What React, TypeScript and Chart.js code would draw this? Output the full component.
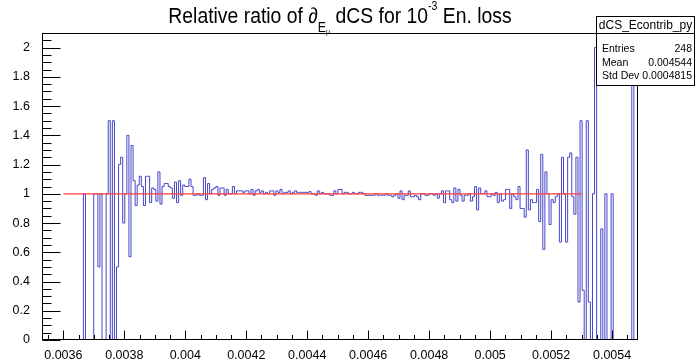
import { useEffect, useRef } from "react";
import { Chart, registerables } from "chart.js";

Chart.register(...registerables);

const WIDTH = 696;
const HEIGHT = 362;

// Histogram binning: equal-width bins spanning [X_MIN, X_MAX]
const X_MIN = 0.00353;
const X_MAX = 0.005485;
const BIN_VALUES: number[] = [
  0, 0, 0, 0, 0, 0, 0, 0, 0, 0,
  0, 0, 0, 0, 0, 0, 0, 0, 0, 0,
  1, 0, 0, 0, 0, 1, 1, 0.5, 1, 0,
  0, 1, 1.5, 0, 1.5, 0, 0.5, 1.2, 1.25, 0.8,
  1.0, 1.4, 0.57, 1.33, 1.09, 0.92, 1.06, 1.12, 1.05, 0.92,
  1.12, 1.12, 0.94, 1.04, 1.03, 0.95, 1.15, 0.93, 1.05, 1.07,
  1.07, 1.05, 1.04, 0.97, 1.08, 0.94, 1.09, 0.99, 1.06, 1.05,
  1.05, 1.1, 1.05, 0.99, 0.99, 1.0, 0.99, 0.99, 1.11, 0.96,
  1.07, 1.0, 1.03, 1.04, 1.05, 0.99, 1.04, 1.04, 0.99, 1.03,
  1.0, 1.0, 1.05, 1.0, 1.02, 1.02, 1.02, 1.01, 1.02, 1.02,
  1.0, 1.03, 0.99, 1.02, 1.03, 1.01, 1.02, 1.0, 1.01, 1.0,
  1.02, 1.02, 0.99, 1.02, 1.01, 1.03, 1.0, 1.01, 1.01, 1.02,
  1.0, 1.01, 1.02, 1.01, 1.01, 1.01, 1.01, 1.01, 1.01, 1.015,
  1.0, 1.0, 0.99, 1.02, 1.0, 1.01, 1.0, 1.0, 1.0, 0.99,
  0.99, 1.02, 1.0, 1.03, 1.03, 1.0, 1.01, 1.01, 1.0, 1.0,
  1.01, 1.0, 1.0, 1.01, 1.01, 1.0, 0.99, 0.99, 0.99, 0.99,
  0.99, 1.0, 0.99, 0.99, 0.99, 0.99, 1.0, 0.99, 0.99, 0.98,
  0.99, 1.0, 0.97, 1.02, 0.96, 0.99, 0.99, 1.02, 0.98, 0.98,
  0.99, 0.98, 0.96, 1.0, 1.0, 0.99, 0.99, 1.0, 1.0, 0.99,
  1.0, 0.97, 1.0, 1.02, 0.94, 1.02, 1.02, 0.96, 0.94, 1.04,
  0.95, 1.03, 0.99, 0.95, 0.99, 0.99, 1.0, 0.95, 0.98, 1.05,
  0.89, 1.04, 1.0, 1.0, 1.02, 0.98, 0.98, 1.0, 0.99, 1.01,
  0.94, 1.0, 0.95, 0.96, 1.03, 1.03, 0.9, 1.0, 0.98, 0.96,
  1.05, 0.9, 0.9, 0.84, 1.3, 0.89, 0.96, 0.94, 0.94, 1.03,
  0.81, 1.27, 0.62, 1.15, 1.0, 0.79, 0.96, 0.94, 0.98, 1.0,
  0.67, 1.25, 1.0, 0.67, 1.25, 1.28, 0.98, 0.86, 1.25, 0.26,
  1.5, 0.34, 0, 1.5, 0.26, 0, 1.0, 2.0, 0, 0,
  0.76, 0, 1.0, 0, 0, 1.0, 0, 0, 0, 0,
  0, 0, 0, 0, 0, 2.0, 0, 0,
];

// Constant fit drawn over the histogram
const FIT_FROM = 0.0036;
const FIT_TO = 0.0053;
const FIT_LEVEL = 1;

const Y_MIN = 0;
const Y_MAX = 2.1;

const X_TICKS = [0.0036, 0.0038, 0.004, 0.0042, 0.0044, 0.0046, 0.0048, 0.005, 0.0052, 0.0054];
const X_TICK_LABELS = ["0.0036", "0.0038", "0.004", "0.0042", "0.0044", "0.0046", "0.0048", "0.005", "0.0052", "0.0054"];
const X_MINOR_STEP = 0.00005;

const Y_TICKS = [0, 0.2, 0.4, 0.6, 0.8, 1, 1.2, 1.4, 1.6, 1.8, 2];
const Y_TICK_LABELS = ["0", "0.2", "0.4", "0.6", "0.8", "1", "1.2", "1.4", "1.6", "1.8", "2"];
const Y_MINOR_STEP = 0.05;

const STAT_NAME = "dCS_Econtrib_py";
const STAT_KEYS = ["Entries", "Mean", "Std Dev"];
const STAT_VALUES = ["248", "0.004544", "0.0004815"];

const FONT = "'Liberation Sans', Arial, Helvetica, sans-serif";
const HIST_COLOR = "#4646c8";
const FIT_COLOR = "#ff3c3c";

function histogramOutline() {
  const n = BIN_VALUES.length;
  const w = (X_MAX - X_MIN) / n;
  const pts: { x: number; y: number }[] = [{ x: X_MIN, y: 0 }];
  BIN_VALUES.forEach((v, i) => pts.push({ x: X_MIN + i * w, y: v }));
  pts.push({ x: X_MAX, y: BIN_VALUES[n - 1] });
  pts.push({ x: X_MAX, y: 0 });
  return pts;
}

type Piece = { t: string; size: number; dy: number };

// Title with a subscripted E_mu and a superscripted exponent, slightly condensed
function drawTitle(ctx: CanvasRenderingContext2D) {
  const squeeze = 0.88;
  const centre = 340;
  const pieces: Piece[] = [
    { t: "Relative ratio of ", size: 22, dy: 0 },
    { t: "\u2202", size: 22, dy: 0 },
    { t: "E", size: 14, dy: 9 },
    { t: "\u03bc", size: 8, dy: 11.5 },
    { t: " dCS for 10", size: 22, dy: 0 },
    { t: "-3", size: 12, dy: -13 },
    { t: " En. loss", size: 22, dy: 0 },
  ];
  let total = 0;
  const widths = pieces.map((p) => {
    ctx.font = `${p.size}px ${FONT}`;
    const w = ctx.measureText(p.t).width;
    total += w;
    return w;
  });
  const baseline = 22.5;
  ctx.save();
  ctx.translate(centre, 0);
  ctx.scale(squeeze, 1);
  let x = -total / 2;
  ctx.fillStyle = "#000";
  ctx.textAlign = "left";
  ctx.textBaseline = "alphabetic";
  pieces.forEach((p, i) => {
    ctx.font = `${p.size}px ${FONT}`;
    ctx.fillText(p.t, x, baseline + p.dy);
    x += widths[i];
  });
  ctx.restore();
}

function drawStats(ctx: CanvasRenderingContext2D) {
  const left = 596;
  const top = 16;
  const right = 695;
  const bottom = 86;
  ctx.fillStyle = "#fff";
  ctx.fillRect(left, top, right - left, bottom - top);
  ctx.strokeStyle = "#000";
  ctx.lineWidth = 1;
  ctx.strokeRect(left + 0.5, top + 0.5, right - left - 1, bottom - top - 1);
  ctx.beginPath();
  ctx.moveTo(left, 33.5);
  ctx.lineTo(right, 33.5);
  ctx.stroke();

  ctx.fillStyle = "#000";
  ctx.textBaseline = "alphabetic";
  ctx.font = `12px ${FONT}`;
  ctx.textAlign = "center";
  ctx.fillText(STAT_NAME, (left + right) / 2, 29);

  ctx.font = `10.5px ${FONT}`;
  const rowBase = [52, 65.5, 79];
  STAT_KEYS.forEach((k, i) => {
    ctx.textAlign = "left";
    ctx.fillText(k, left + 6, rowBase[i]);
    ctx.textAlign = "right";
    ctx.fillText(STAT_VALUES[i], right - 3, rowBase[i]);
  });
}

const framePlugin = {
  id: "frame",
  afterDatasetsDraw(chart: Chart) {
    const { ctx, chartArea: a } = chart;
    const x = chart.scales.x;
    const y = chart.scales.y;
    ctx.save();
    ctx.strokeStyle = "#000";
    ctx.lineWidth = 1;
    const l = Math.round(a.left) + 0.5;
    const r = Math.round(a.right) - 0.5;
    const t = Math.round(a.top) + 0.5;
    const b = Math.round(a.bottom) - 0.5;
    ctx.strokeRect(l, t, r - l, b - t);

    // tick marks drawn inward from the bottom and left axes
    ctx.beginPath();
    const xStart = Math.ceil(X_MIN / X_MINOR_STEP - 1e-9);
    const xEnd = Math.floor(X_MAX / X_MINOR_STEP + 1e-9);
    for (let k = xStart; k <= xEnd; k++) {
      const v = k * X_MINOR_STEP;
      const major = X_TICKS.some((m) => Math.abs(m - v) < 1e-9);
      const px = Math.round(x.getPixelForValue(v)) + 0.5;
      ctx.moveTo(px, b);
      ctx.lineTo(px, b - (major ? 9 : 4.5));
    }
    const yEnd = Math.floor(Y_MAX / Y_MINOR_STEP + 1e-9);
    for (let k = 0; k <= yEnd; k++) {
      const v = k * Y_MINOR_STEP;
      const major = Y_TICKS.some((m) => Math.abs(m - v) < 1e-9);
      const py = Math.round(y.getPixelForValue(v)) + 0.5;
      ctx.moveTo(l, py);
      ctx.lineTo(l + (major ? 18 : 9), py);
    }
    ctx.stroke();
    ctx.restore();
  },
  afterDraw(chart: Chart) {
    const { ctx } = chart;
    ctx.save();
    drawStats(ctx);
    drawTitle(ctx);
    ctx.restore();
  },
};

export default function App() {
  const canvasRef = useRef<HTMLCanvasElement | null>(null);

  useEffect(() => {
    const canvas = canvasRef.current;
    if (!canvas) return;
    const chart = new Chart(canvas, {
      type: "line",
      data: {
        datasets: [
          {
            label: "fit",
            data: [
              { x: FIT_FROM, y: FIT_LEVEL },
              { x: FIT_TO, y: FIT_LEVEL },
            ],
            borderColor: FIT_COLOR,
            borderWidth: 1.3,
            pointRadius: 0,
            fill: false,
            order: 0,
          },
          {
            label: "dCS_Econtrib_py",
            data: histogramOutline(),
            stepped: true,
            borderColor: HIST_COLOR,
            borderWidth: 1,
            pointRadius: 0,
            fill: false,
            order: 1,
          },
        ],
      },
      options: {
        responsive: false,
        animation: false,
        devicePixelRatio: 1,
        layout: { padding: { top: 33, right: 58, left: 0, bottom: 0 } },
        plugins: {
          legend: { display: false },
          tooltip: { enabled: false },
          title: { display: false },
        },
        scales: {
          x: {
            type: "linear",
            min: X_MIN,
            max: X_MAX,
            grid: { display: false },
            border: { display: false },
            afterFit: (s: any) => {
              s.height = 22;
            },
            afterBuildTicks: (s: any) => {
              s.ticks = X_TICKS.map((v) => ({ value: v }));
            },
            ticks: {
              autoSkip: false,
              maxRotation: 0,
              minRotation: 0,
              padding: 0,
              color: "#000",
              font: { family: FONT, size: 12.5 },
              callback: (_v: any, i: number) => X_TICK_LABELS[i],
            },
          },
          y: {
            type: "linear",
            min: Y_MIN,
            max: Y_MAX,
            grid: { display: false },
            border: { display: false },
            afterFit: (s: any) => {
              s.width = 42;
            },
            afterBuildTicks: (s: any) => {
              s.ticks = Y_TICKS.map((v) => ({ value: v }));
            },
            ticks: {
              autoSkip: false,
              padding: 4,
              color: "#000",
              font: { family: FONT, size: 12.5 },
              callback: (_v: any, i: number) => Y_TICK_LABELS[i],
            },
          },
        },
      },
      plugins: [framePlugin],
    });
    return () => chart.destroy();
  }, []);

  return (
    <div style={{ position: "absolute", left: 0, top: 0, width: WIDTH, height: HEIGHT, background: "#fff" }}>
      <canvas ref={canvasRef} width={WIDTH} height={HEIGHT} style={{ width: WIDTH, height: HEIGHT, display: "block" }} />
    </div>
  );
}
